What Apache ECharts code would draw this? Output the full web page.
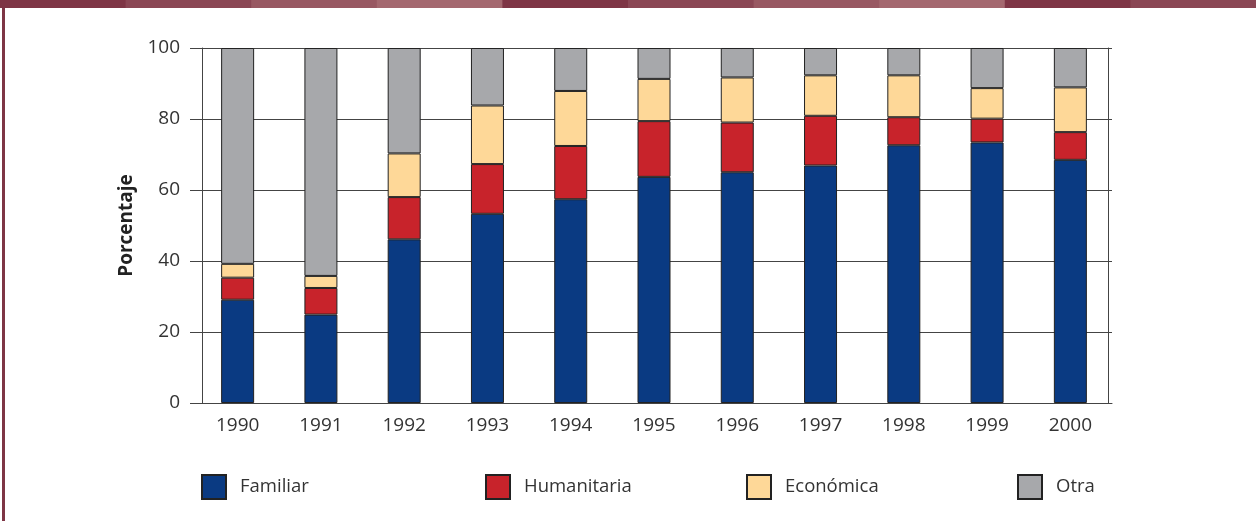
<!DOCTYPE html>
<html>
<head>
<meta charset="utf-8">
<script src="https://cdn.jsdelivr.net/npm/echarts@6/dist/echarts.min.js"></script>
<style>html,body{margin:0;padding:0;background:#fff}#c{width:1256px;height:521px}</style>
</head>
<body>
<div id="c"></div>
<script>
const categories = ['1990','1991','1992','1993','1994','1995','1996','1997','1998','1999','2000'];
const familiar    = [29.1, 24.9, 46.1, 53.3, 57.4, 63.7, 65.0, 66.9, 72.6, 73.4, 68.5];
const humanitaria = [6.2, 7.5, 11.9, 14.0, 15.0, 15.7, 14.0, 14.0, 7.9, 6.7, 7.8];
const economica   = [3.9, 3.4, 12.3, 16.5, 15.5, 11.9, 12.7, 11.4, 11.8, 8.6, 12.6];
const otra        = [60.8, 64.2, 29.7, 16.2, 12.1, 8.7, 8.3, 7.7, 7.7, 11.3, 11.1];
const yTicks = [0, 20, 40, 60, 80, 100];

const FONT = '"Open Sans", "DejaVu Sans", sans-serif';
const chart = echarts.init(document.getElementById('c'));

const bandColors = ['#7e3545', '#8a4654', '#985862', '#a4686f'];
const graphics = [];
for (let i = 0; i < 10; i++) {
  graphics.push({ type: 'rect', left: i * 125.6, top: 0, shape: { width: 126.6, height: 8 }, style: { fill: bandColors[i % 4] }, silent: true });
}
graphics.push({ type: 'rect', left: 2, top: 0, shape: { width: 3, height: 521 }, style: { fill: '#7e3545' }, silent: true });

function mk(name, data, color) {
  return {
    name, type: 'bar', stack: 'total', data, barWidth: 33,
    itemStyle: { color, borderColor: '#222', borderWidth: 1 },
    emphasis: { disabled: true }
  };
}
function lg(name, left) {
  return {
    data: [{ name, icon: 'rect' }], left, top: 474, padding: 0, itemWidth: 24, itemHeight: 24, itemGap: 0,
    textStyle: { fontFamily: FONT, fontSize: 18.5, color: '#333', padding: [0, 0, 0, 9] },
    selectedMode: false
  };
}

chart.setOption({
  animation: false,
  graphic: graphics,
  grid: { left: 196, right: 144, top: 48, bottom: 118 },
  legend: [lg('Familiar', 201), lg('Humanitaria', 485), lg('Económica', 746), lg('Otra', 1017)],
  xAxis: {
    type: 'category', data: categories,
    axisLine: { lineStyle: { color: '#444', width: 1 } },
    axisTick: { length: 11, lineStyle: { color: '#444' } },
    axisLabel: { fontFamily: FONT, fontSize: 19, color: '#333', margin: 13 }
  },
  yAxis: [{
    type: 'value', min: 0, max: 100, interval: 20, offset: -6,
    name: 'Porcentaje', nameLocation: 'middle', nameGap: 66, nameRotate: 90,
    nameTextStyle: { fontFamily: FONT, fontSize: 19, fontWeight: 'bold', color: '#222' },
    axisLine: { show: true, lineStyle: { color: '#444' } },
    axisTick: { show: true, length: 12, lineStyle: { color: '#444' } },
    axisLabel: { fontFamily: FONT, fontSize: 19, color: '#333', margin: 22,
      formatter: v => yTicks.includes(v) ? String(v) : '' },
    splitLine: { lineStyle: { color: '#444', width: 1 } }
  }, {
    type: 'value', min: 0, max: 100, interval: 20, position: 'right', offset: -4,
    axisLine: { show: true, lineStyle: { color: '#444' } },
    axisTick: { show: false }, axisLabel: { show: false }, splitLine: { show: false }
  }],
  series: [
    mk('Familiar', familiar, '#0a3a82'),
    mk('Humanitaria', humanitaria, '#c8232b'),
    mk('Económica', economica, '#fed898'),
    mk('Otra', otra, '#a7a8ab')
  ]
});
</script>
</body>
</html>
